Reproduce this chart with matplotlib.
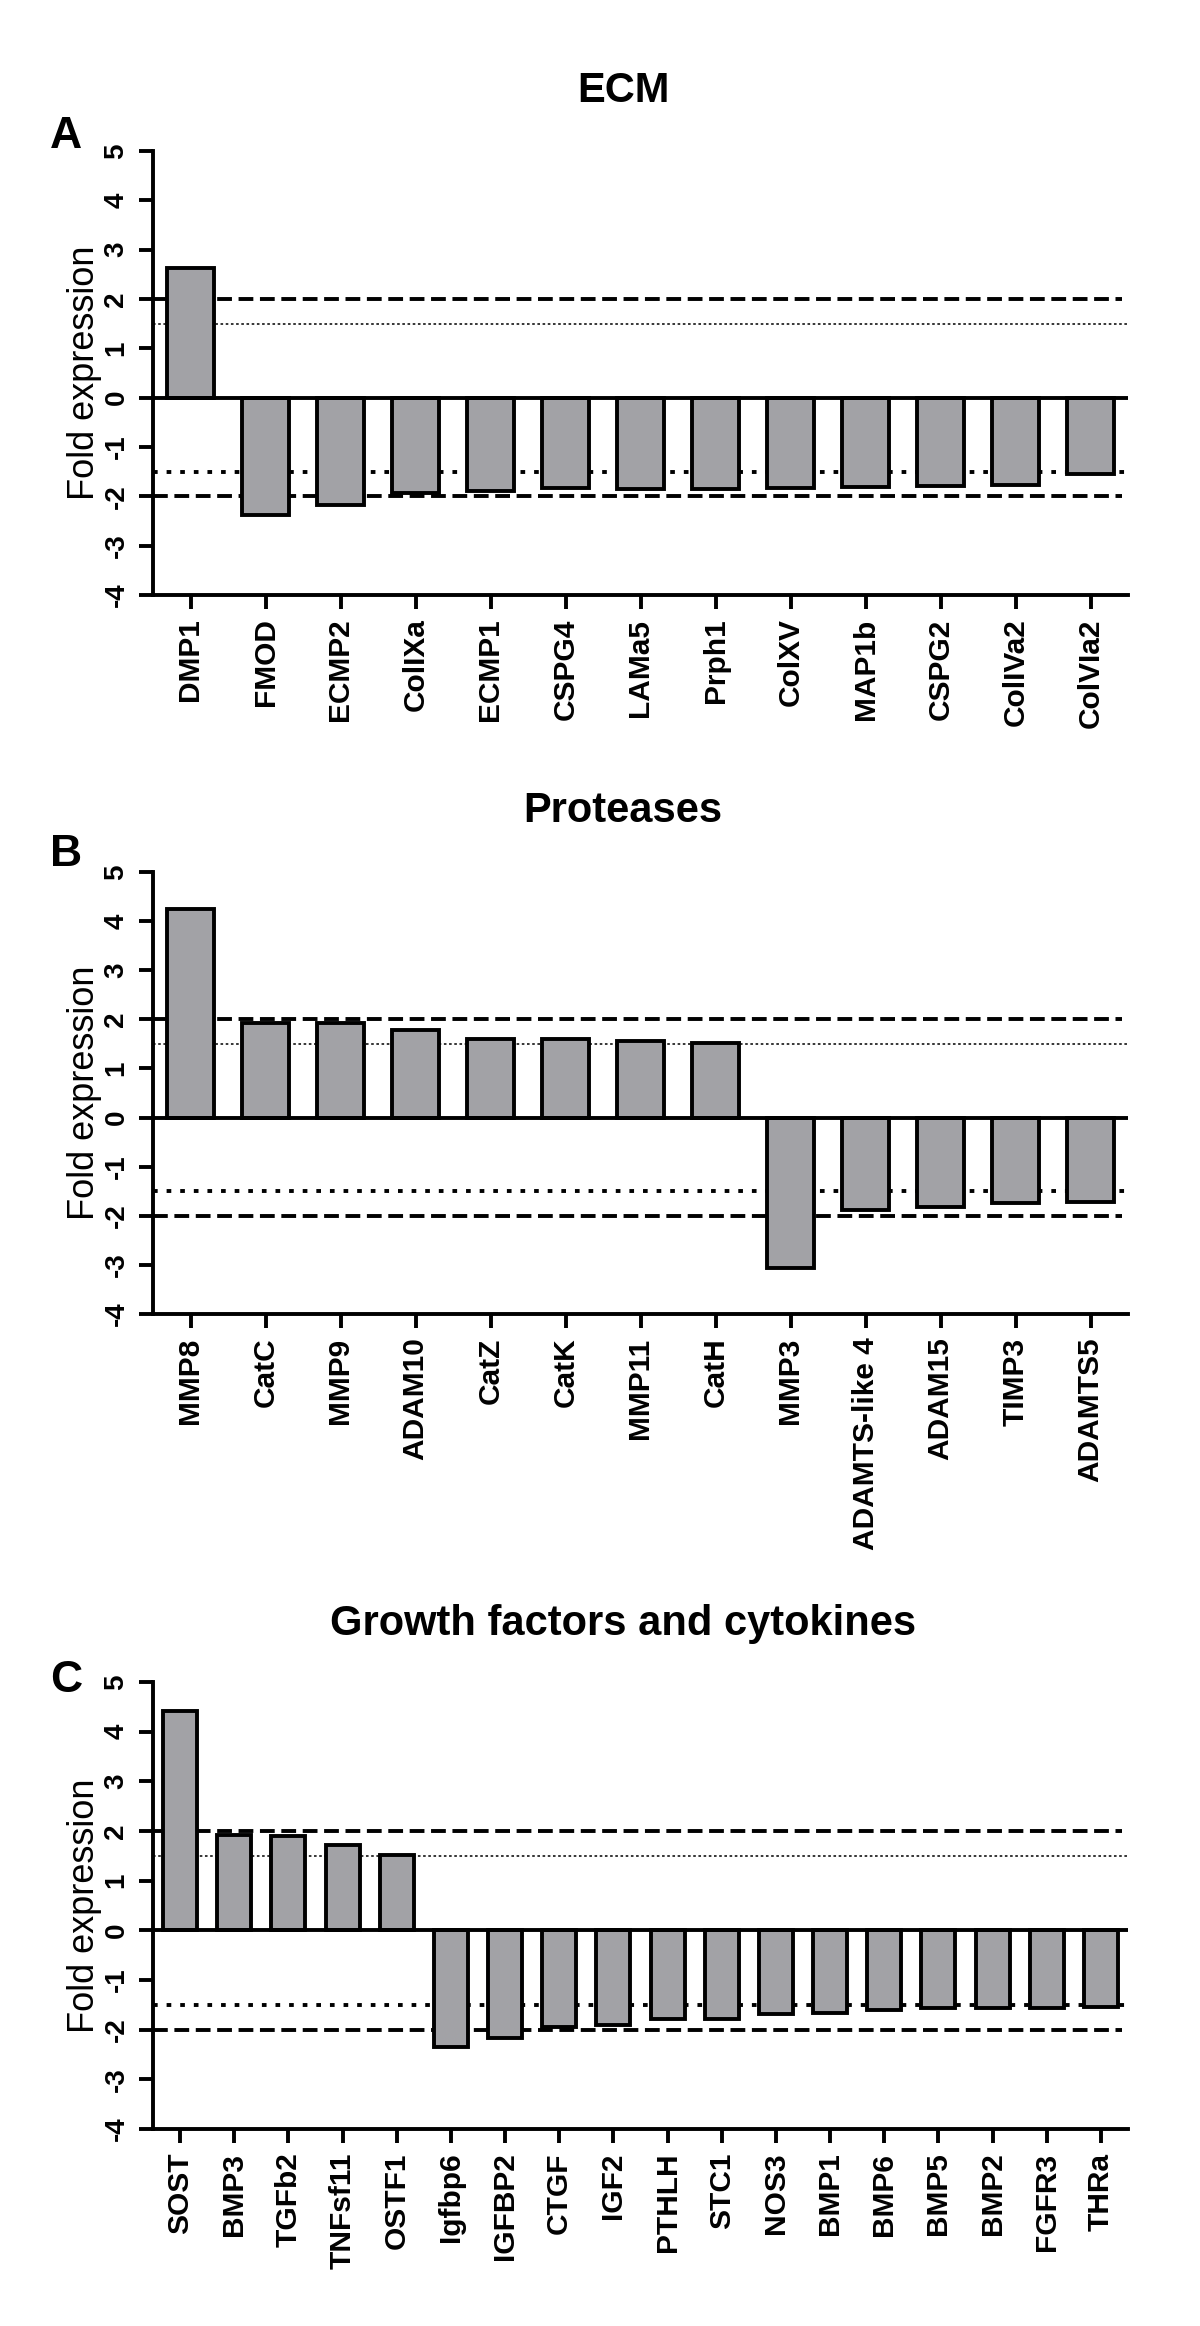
import matplotlib
matplotlib.use('Agg')
import matplotlib.pyplot as plt

plt.rcParams['font.family'] = ['Liberation Sans', 'DejaVu Sans']

# panel A - ECM
ecm_genes = ['DMP1', 'FMOD', 'ECMP2', 'ColIXa', 'ECMP1', 'CSPG4', 'LAMa5',
             'Prph1', 'ColXV', 'MAP1b', 'CSPG2', 'ColIVa2', 'ColVIa2']
ecm_vals = [2.63, -2.38, -2.18, -1.94, -1.89, -1.84, -1.86,
            -1.86, -1.84, -1.82, -1.80, -1.78, -1.54]

# panel B - proteases
prot_genes = ['MMP8', 'CatC', 'MMP9', 'ADAM10', 'CatZ', 'CatK', 'MMP11',
              'CatH', 'MMP3', 'ADAMTS-like 4', 'ADAM15', 'TIMP3', 'ADAMTS5']
prot_vals = [4.25, 1.93, 1.93, 1.79, 1.59, 1.59, 1.56,
             1.52, -3.07, -1.89, -1.82, -1.73, -1.71]

# panel C - growth factors and cytokines
gf_genes = ['SOST', 'BMP3', 'TGFb2', 'TNFsf11', 'OSTF1', 'Igfbp6', 'IGFBP2',
            'CTGF', 'IGF2', 'PTHLH', 'STC1', 'NOS3', 'BMP1', 'BMP6', 'BMP5',
            'BMP2', 'FGFR3', 'THRa']
gf_vals = [4.41, 1.92, 1.89, 1.72, 1.52, -2.34, -2.16,
           -1.95, -1.90, -1.79, -1.79, -1.69, -1.66, -1.61, -1.57,
           -1.56, -1.56, -1.54]

titles = ['ECM', 'Proteases', 'Growth factors and cytokines']
letters = ['A', 'B', 'C']
yticks = [-4, -3, -2, -1, 0, 1, 2, 3, 4, 5]

W, H = 1200.0, 2326.0
fig = plt.figure(figsize=(12, 23.26), dpi=100)

# pixel layout: axes top (y=5), axes bottom (y=-4), title baseline, letter baseline
layout = [(151, 595, 102, 148), (872, 1314, 822, 866), (1682, 2129, 1635, 1692)]
ax_left, ax_right = 153, 1128

panels = [(ecm_genes, ecm_vals), (prot_genes, prot_vals), (gf_genes, gf_vals)]

for i in range(3):
    genes, vals = panels[i]
    top, bot, tbase, lbase = layout[i]
    n = len(genes)
    ax = fig.add_axes([ax_left / W, 1 - bot / H, (ax_right - ax_left) / W, (bot - top) / H])
    x = list(range(n))

    ax.axhline(2, color='k', lw=2.8, ls=(0, (3.8, 1.7)), xmax=0.994, zorder=1)
    ax.axhline(-2, color='k', lw=2.8, ls=(0, (3.8, 1.7)), xmax=0.994, zorder=1)
    ax.axhline(1.5, color='k', lw=1.1, ls=(0, (1.7, 1.7)), zorder=1)
    ax.axhline(-1.5, color='k', lw=2.8, ls=(0, (1.2, 2.3)), zorder=1)

    ax.bar(x, vals, width=0.63, color='#a2a2a6', edgecolor='k', linewidth=2.8, zorder=3)
    ax.axhline(0, color='k', lw=2.8, zorder=4)

    ax.set_xlim(-0.5, n - 0.5)
    ax.set_ylim(-4, 5)
    for s in ['top', 'right']:
        ax.spines[s].set_visible(False)
    for s in ['left', 'bottom']:
        ax.spines[s].set_linewidth(2.8)

    ax.set_yticks(yticks)
    ax.set_yticklabels([str(v) for v in yticks], rotation=90, va='center',
                       fontsize=20, fontweight='bold')
    ax.set_xticks(x)
    ax.set_xticklabels(genes, rotation=90, fontsize=21.5, fontweight='bold')
    ax.tick_params(axis='y', length=10, width=2.8, pad=7)
    ax.tick_params(axis='x', length=10, width=2.8, pad=7)

    ax.set_ylabel('Fold expression', fontsize=26)
    ax.yaxis.set_label_coords(-0.052, 0.5)

    fig.text(623 / W, 1 - tbase / H, titles[i], ha='center', va='baseline',
             fontsize=30, fontweight='bold')
    fig.text(50 / W, 1 - lbase / H, letters[i], ha='left', va='baseline',
             fontsize=32, fontweight='bold')

plt.savefig('out.png', dpi=100)
